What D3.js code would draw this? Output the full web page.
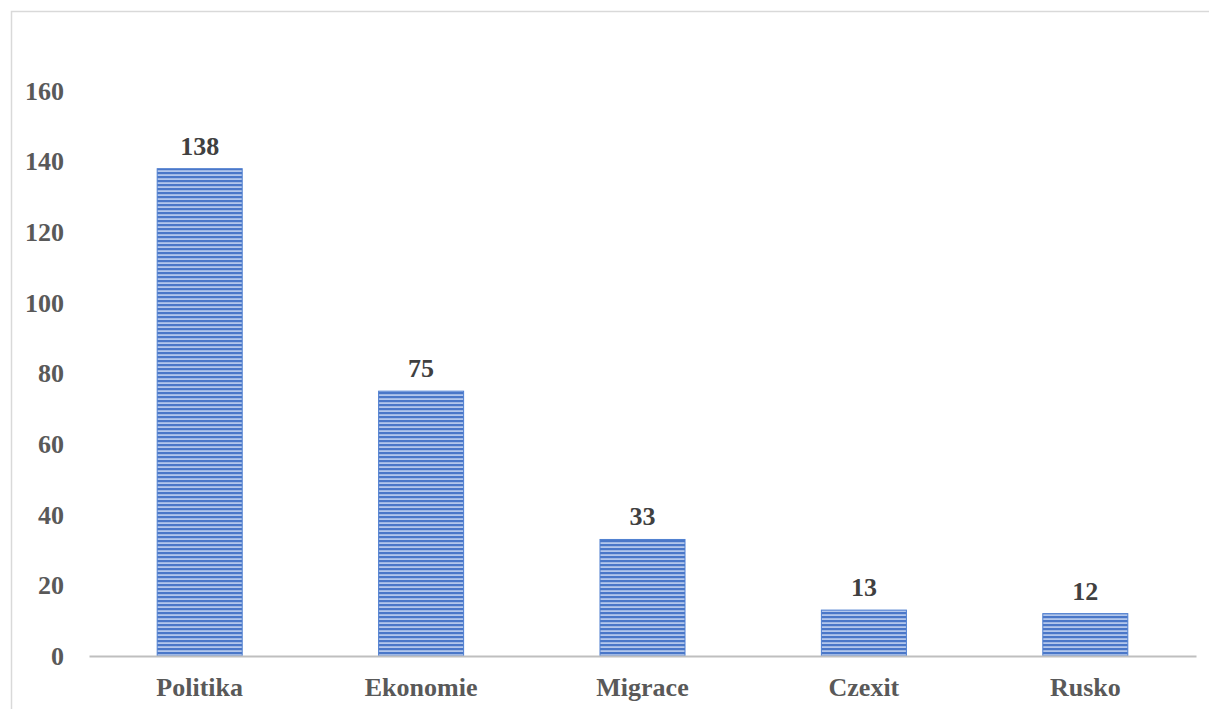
<!DOCTYPE html>
<html>
<head>
<meta charset="utf-8">
<script src="https://cdn.jsdelivr.net/npm/d3@7"></script>
<style>
  html, body { margin: 0; padding: 0; background: #fff; }
  svg { display: block; }
</style>
</head>
<body>
<script>
// Topic counts
const categories = ["Politika", "Ekonomie", "Migrace", "Czexit", "Rusko"];
const counts = [138, 75, 33, 13, 12];
const yTicks = [0, 20, 40, 60, 80, 100, 120, 140, 160];

const W = 1209, H = 709;
const plot = { left: 89, right: 1196, top: 91, bottom: 656 };

const svg = d3.select("body").append("svg")
  .attr("width", W).attr("height", H);

// Striped fill for the bars
const defs = svg.append("defs");
const pat = defs.append("pattern")
  .attr("id", "stripes")
  .attr("patternUnits", "userSpaceOnUse")
  .attr("width", 8).attr("height", 4);
pat.append("rect").attr("width", 8).attr("height", 4).attr("fill", "#b3c7ec");
pat.append("rect").attr("y", 0).attr("width", 8).attr("height", 2.2).attr("fill", "#4a77c8");

// Chart frame (left and top edges)
svg.append("path")
  .attr("d", `M11.5,${H} L11.5,11.5 L${W},11.5`)
  .attr("fill", "none")
  .attr("stroke", "#d9d9d9")
  .attr("stroke-width", 1.5);

const x = d3.scaleBand()
  .domain(categories)
  .range([plot.left, plot.right])
  .paddingInner(0.616)
  .paddingOuter(0.308);

const y = d3.scaleLinear()
  .domain([0, 160])
  .range([plot.bottom, plot.top]);

const font = "'Liberation Serif', 'Times New Roman', serif";
const fontSize = 26;

// Y axis labels (no axis line)
const yAxis = svg.append("g")
  .attr("transform", `translate(${plot.left},0)`)
  .call(d3.axisLeft(y).tickValues(yTicks).tickSize(0).tickPadding(25));
yAxis.select(".domain").remove();
yAxis.selectAll("text")
  .attr("font-family", font)
  .attr("font-weight", "bold")
  .attr("font-size", fontSize)
  .attr("fill", "#595959");

// Bars
svg.append("g").selectAll("rect")
  .data(counts)
  .join("rect")
  .attr("x", (d, i) => x(categories[i]))
  .attr("y", d => y(d))
  .attr("width", x.bandwidth())
  .attr("height", d => y(0) - y(d))
  .attr("fill", "url(#stripes)")
  .attr("stroke", "#4f7fd0")
  .attr("stroke-width", 1);

// X axis baseline and category labels
const xAxis = svg.append("g")
  .attr("transform", `translate(0,${plot.bottom})`)
  .call(d3.axisBottom(x).tickSize(0).tickPadding(22));
xAxis.select(".domain")
  .attr("stroke", "#bfbfbf")
  .attr("stroke-width", 2.2);
xAxis.selectAll("text")
  .attr("font-family", font)
  .attr("font-weight", "bold")
  .attr("font-size", fontSize)
  .attr("fill", "#595959");

// Value labels
svg.append("g").selectAll("text")
  .data(counts)
  .join("text")
  .attr("x", (d, i) => x(categories[i]) + x.bandwidth() / 2)
  .attr("y", d => y(d) - 14)
  .attr("text-anchor", "middle")
  .attr("font-family", font)
  .attr("font-weight", "bold")
  .attr("font-size", fontSize)
  .attr("fill", "#404040")
  .text(d => d);
</script>
</body>
</html>
